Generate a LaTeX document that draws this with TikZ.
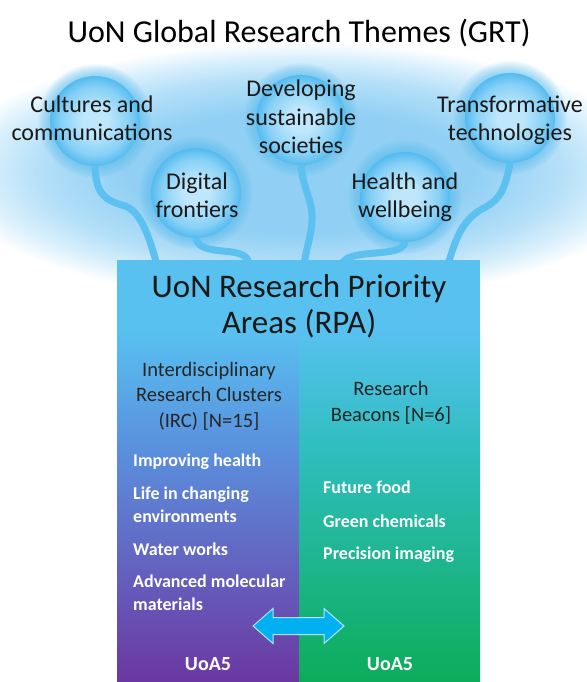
\documentclass[tikz,border=0pt]{standalone}
\usepackage{fontspec}
\setmainfont{Carlito}
\usetikzlibrary{calc}

% palette
\definecolor{hazeA}{RGB}{145,208,244}
\definecolor{hazeB}{RGB}{180,223,248}
\definecolor{hazeC}{RGB}{218,240,252}
\definecolor{bubC}{RGB}{190,231,251}
\definecolor{bubM}{RGB}{135,208,246}
\definecolor{bubE}{RGB}{84,187,239}
\definecolor{stemc}{RGB}{92,192,240}
\definecolor{rpatop}{RGB}{88,193,240}
\definecolor{ircmid}{RGB}{90,145,222}
\definecolor{ircmidb}{RGB}{98,100,205}
\definecolor{ircbot}{RGB}{108,55,162}
\definecolor{rbmid}{RGB}{48,190,192}
\definecolor{rbmidb}{RGB}{22,180,125}
\definecolor{rbbot}{RGB}{12,172,90}
\definecolor{arrowc}{RGB}{0,176,240}
\definecolor{arrowrim}{RGB}{175,228,250}

% soft background glow and sphere look
\pgfdeclareradialshading{haze}{\pgfpoint{0bp}{0bp}}{color(0bp)=(hazeA); color(12bp)=(hazeA); color(18bp)=(hazeB); color(22bp)=(hazeC); color(25bp)=(white); color(50bp)=(white)}
\pgfdeclareradialshading{bubshade}{\pgfpoint{0bp}{0bp}}{color(0bp)=(bubC); color(7bp)=(bubC); color(19bp)=(bubM); color(25bp)=(bubE); color(50bp)=(bubE)}

\pgfdeclarelayer{back}
\pgfdeclarelayer{mid}
\pgfsetlayers{back,mid,main}

\begin{document}
\begin{tikzpicture}[x=1pt,y=-1pt,
  bubble/.style={circle, minimum size=90pt, inner sep=0pt, shading=bubshade},
  stem/.style={draw=stemc, line width=7pt, line cap=round},
  titletext/.style={font=\fontsize{32}{36}\selectfont, text=black, inner sep=0pt},
  themetext/.style={font=\fontsize{24}{28}\selectfont, align=center, text=black!90, inner sep=0pt},
  headtext/.style={font=\fontsize{33}{36}\selectfont, align=center, text=black!90, inner sep=0pt},
  subtext/.style={font=\fontsize{20.5}{25.5}\selectfont, align=center, text=black!85, inner sep=0pt},
  itemtext/.style={font=\bfseries\fontsize{18}{23}\selectfont, align=left, text=white, inner sep=0pt},
  uoatext/.style={font=\bfseries\fontsize{20}{24}\selectfont, text=white, inner sep=0pt},
  rpabox/.style={rectangle, fill=rpatop, inner sep=0pt, minimum width=363pt, minimum height=422pt},
  dblarrow/.style={fill=arrowc, draw=arrowrim, line width=1pt, line join=miter}
]
\useasboundingbox (0,0) rectangle (586,682);

% ---- theme spheres ----
\node[bubble] (b1) at (95,121) {};
\node[bubble] (b2) at (196,193) {};
\node[bubble] (b3) at (301,120) {};
\node[bubble] (b4) at (405,197) {};
\node[bubble] (b5) at (510,118) {};

% ---- research priority box ----
\node[rpabox, anchor=north west] (rpa) at (117,260) {};
\shade[top color=rpatop, bottom color=ircmid] (117,330) rectangle (299,445);
\shade[top color=ircmid, middle color=ircmidb, bottom color=ircbot] (117,445) rectangle (299,682);
\shade[top color=rpatop, bottom color=rbmid] (299,330) rectangle (480,445);
\shade[top color=rbmid, middle color=rbmidb, bottom color=rbbot] (299,445) rectangle (480,682);

% stem ends inside the box top
\coordinate (j1) at (158,268);
\coordinate (j2) at (250,268);
\coordinate (j3) at (304,268);
\coordinate (j4) at (340,268);
\coordinate (j5) at (447,268);

\begin{pgfonlayer}{back}
  \fill[white] (0,0) rectangle (586,682);
  \shade[shading=haze] (300,172) ellipse [x radius=360, y radius=130];
  \foreach \b in {b1,b2,b3,b4,b5}{
    \foreach \k in {1,...,8}{
      \fill[bubE, opacity=0.09] (\b.center) circle (44+1.6*\k);
    }
  }
\end{pgfonlayer}

\begin{pgfonlayer}{mid}
  \draw[stem] (b1.south) .. controls (96,195) and (105,200) .. (125,206)
                         .. controls (142,212) and (150,240) .. (j1);
  \draw[stem] (b2.south) .. controls (198,250) and (215,250) .. (232,252)
                         .. controls (245,254) and (249,258) .. (j2);
  \draw[stem] (b3.south) .. controls (303,190) and (313,200) .. (312,220)
                         .. controls (311,240) and (305,250) .. (j3);
  \draw[stem] (b4.south) .. controls (403,252) and (385,252) .. (365,254)
                         .. controls (350,256) and (343,258) .. (j4);
  \draw[stem] (b5.south) .. controls (505,190) and (500,200) .. (482,209)
                         .. controls (462,220) and (455,240) .. (j5);
\end{pgfonlayer}

% ---- texts (multi-line nodes sit on the baseline of their last line) ----
\node[titletext, anchor=base] (grt) at (299,43) {UoN Global Research Themes (GRT)};

\node[themetext, anchor=base] (t1) at (92,140) {Cultures and\\communications};
\node[themetext, anchor=base] (t2) at (197,217) {Digital\\frontiers};
\node[themetext, anchor=base] (t3) at (301,153) {Developing\\sustainable\\societies};
\node[themetext, anchor=base] (t4) at (405,217) {Health and\\wellbeing};
\node[themetext, anchor=base] (t5) at (510,140) {Transformative\\technologies};

\node[headtext, anchor=base] (rpah) at (299,333) {UoN Research Priority\\Areas (RPA)};
\node[subtext, anchor=base] (irc) at (209,427) {Interdisciplinary\\Research Clusters\\(IRC) [N=15]};
\node[subtext, anchor=base] (beac) at (391,421) {Research\\Beacons [N=6]};

\node[itemtext, anchor=base west] (i1) at (133,466) {Improving health};
\node[itemtext, anchor=base west] (i2) at (133,522) {Life in changing\\environments};
\node[itemtext, anchor=base west] (i3) at (133,555) {Water works};
\node[itemtext, anchor=base west] (i4) at (133,610) {Advanced molecular\\materials};

\node[itemtext, anchor=base west] (r1) at (323,493) {Future food};
\node[itemtext, anchor=base west] (r2) at (323,527) {Green chemicals};
\node[itemtext, anchor=base west] (r3) at (323,559) {Precision imaging};

\node[uoatext, anchor=base] (u1) at (208,670) {UoA5};
\node[uoatext, anchor=base] (u2) at (390,670) {UoA5};

% ---- two-way link between the columns ----
\coordinate (arrc) at (299,626);
\draw[dblarrow, shift={(arrc)}] (-46,0) -- (-26,-17.5) -- (-26,-8.5) -- (25,-8.5) -- (25,-17.5)
  -- (45,0) -- (25,17.5) -- (25,8.5) -- (-26,8.5) -- (-26,17.5) -- cycle;
\end{tikzpicture}
\end{document}
